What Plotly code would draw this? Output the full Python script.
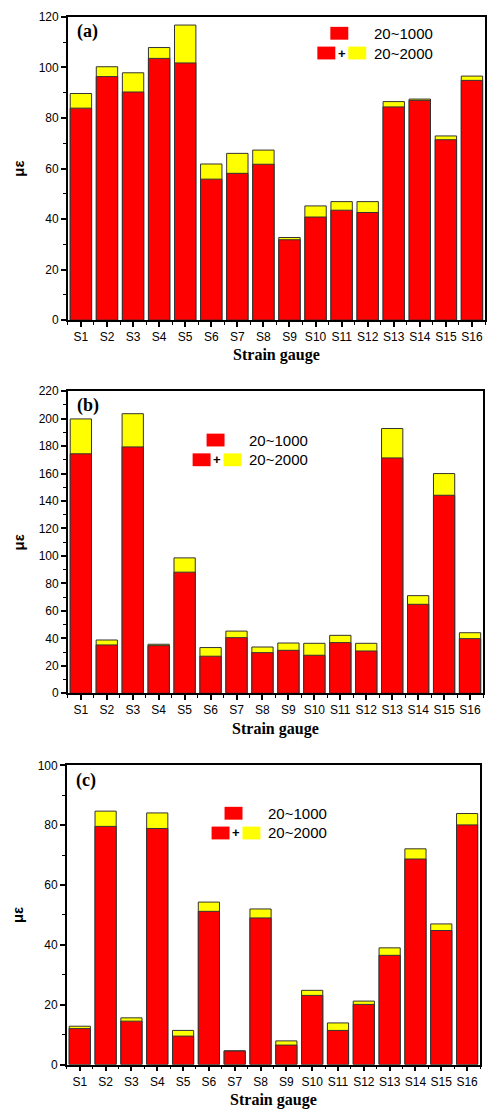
import plotly.graph_objects as go

# page is 495x1120; body has 8px default margin, so the figure is 16px smaller
PAGE_W, PAGE_H = 495, 1120
OFF = 8
W, H = PAGE_W - 2 * OFF, PAGE_H - 2 * OFF

gauges = [f"S{i}" for i in range(1, 17)]

# Panel (a)
a_1000 = [83.9, 96.4, 90.3, 103.6, 101.8, 55.8, 58.1, 61.7, 31.8, 40.8, 43.5, 42.6, 84.4, 87.0, 71.4, 94.9]
a_2000 = [89.7, 100.3, 97.9, 107.9, 116.8, 61.8, 66.0, 67.3, 32.7, 45.2, 46.9, 46.9, 86.5, 87.5, 72.9, 96.6]
# Panel (b)
b_1000 = [174.4, 35.2, 179.4, 34.7, 88.2, 27.0, 40.5, 29.6, 31.3, 27.7, 36.9, 30.8, 171.4, 64.8, 144.2, 39.8]
b_2000 = [199.8, 38.8, 203.6, 35.7, 98.6, 33.3, 45.3, 33.7, 36.6, 36.4, 42.2, 36.4, 192.8, 71.1, 160.0, 44.1]
# Panel (c)
c_1000 = [12.0, 79.6, 14.5, 78.9, 9.5, 51.2, 4.5, 49.0, 6.5, 23.1, 11.4, 20.1, 36.5, 68.7, 44.8, 80.1]
c_2000 = [12.8, 84.7, 15.6, 84.1, 11.4, 54.3, 4.6, 52.0, 7.9, 24.8, 13.9, 21.2, 39.0, 72.1, 47.0, 83.9]

panels = [
    dict(tag="(a)", lo=a_1000, hi=a_2000, ymax=120,
         box=(68, 486, 10, 317), leg=(331, 318, 20, 40)),
    dict(tag="(b)", lo=b_1000, hi=b_2000, ymax=220,
         box=(68, 484, 389, 695), leg=(207, 193, 432, 452)),
    dict(tag="(c)", lo=c_1000, hi=c_2000, ymax=100,
         box=(67, 481, 768, 1071), leg=(225, 212, 810, 830)),
]

RED = "#FF0000"
YEL = "#FFFF00"
EDGE = "#333333"

def px(x):
    return (x - OFF) / W

def py(y):
    return 1 - (y - OFF) / H

fig = go.Figure()
xpos = list(range(1, len(gauges) + 1))
shapes = []
annotations = []

for i, p in enumerate(panels, start=1):
    xa = "x" if i == 1 else f"x{i}"
    ya = "y" if i == 1 else f"y{i}"
    fig.add_trace(go.Bar(x=xpos, y=p["hi"], xaxis=xa, yaxis=ya, width=0.82,
                         marker=dict(color=YEL, line=dict(color=EDGE, width=1)),
                         showlegend=False, hoverinfo="skip"))
    fig.add_trace(go.Bar(x=xpos, y=p["lo"], xaxis=xa, yaxis=ya, width=0.82,
                         marker=dict(color=RED, line=dict(color=EDGE, width=1)),
                         showlegend=False, hoverinfo="skip"))
    x0, x1, ytop, ybot = p["box"]
    key = "xaxis" if i == 1 else f"xaxis{i}"
    keyy = "yaxis" if i == 1 else f"yaxis{i}"
    fig.layout[key] = dict(
        domain=[px(x0), px(x1)], anchor=ya, range=[0.5, 16.5],
        tickmode="array", tickvals=xpos, ticktext=gauges,
        ticks="outside", ticklen=5, tickwidth=1.5, tickcolor="black",
        showline=True, linecolor="black", linewidth=1.5, mirror=True,
        showgrid=False, zeroline=False,
        tickfont=dict(family="Liberation Sans, Arial", size=12, color="black"),
        title=dict(text="<b>Strain gauge</b>", standoff=6,
                   font=dict(family="Liberation Serif, Times New Roman", size=16, color="black")),
        minor=dict(tickmode="linear", tick0=0.5, dtick=0.5, ticks="outside", ticklen=3,
                   tickwidth=1, tickcolor="black"),
    )
    fig.layout[keyy] = dict(
        domain=[py(ybot), py(ytop)], anchor=xa, range=[0, p["ymax"]],
        dtick=20, tick0=0,
        ticks="outside", ticklen=5, tickwidth=1.5, tickcolor="black",
        showline=True, linecolor="black", linewidth=1.5, mirror=True,
        showgrid=False, zeroline=False,
        tickfont=dict(family="Liberation Sans, Arial", size=12, color="black"),
        title=dict(text="<b>με</b>", standoff=10,
                   font=dict(family="Liberation Sans, Arial", size=15, color="black")),
        minor=dict(dtick=10, ticks="outside", ticklen=3, tickwidth=1, tickcolor="black"),
    )
    # panel tag
    annotations.append(dict(text=f"<b>{p['tag']}</b>", x=px(x0 + 7), y=py(ytop + 15),
                            xref="paper", yref="paper", xanchor="left", yanchor="middle",
                            showarrow=False,
                            font=dict(family="Liberation Serif, Times New Roman", size=18, color="black")))
    # custom legend
    rx1, rx2, ry1, ry2 = p["leg"]
    bw, bh = 18, 13
    shapes.append(dict(type="rect", xref="paper", yref="paper",
                       x0=px(rx1), x1=px(rx1 + bw), y0=py(ry1 + bh), y1=py(ry1),
                       fillcolor=RED, line=dict(width=0)))
    shapes.append(dict(type="rect", xref="paper", yref="paper",
                       x0=px(rx2), x1=px(rx2 + bw), y0=py(ry2 + bh), y1=py(ry2),
                       fillcolor=RED, line=dict(width=0)))
    shapes.append(dict(type="rect", xref="paper", yref="paper",
                       x0=px(rx2 + 31), x1=px(rx2 + 31 + bw), y0=py(ry2 + bh), y1=py(ry2),
                       fillcolor=YEL, line=dict(width=0)))
    annotations.append(dict(text="<b>+</b>", x=px(rx2 + 24.5), y=py(ry2 + bh / 2),
                            xref="paper", yref="paper", xanchor="center", yanchor="middle",
                            showarrow=False,
                            font=dict(family="Liberation Sans, Arial", size=13, color="black")))
    tx = rx2 + 55
    annotations.append(dict(text="20~1000", x=px(tx), y=py(ry1 + bh / 2),
                            xref="paper", yref="paper", xanchor="left", yanchor="middle",
                            showarrow=False,
                            font=dict(family="Liberation Sans, Arial", size=15, color="black")))
    annotations.append(dict(text="20~2000", x=px(tx), y=py(ry2 + bh / 2),
                            xref="paper", yref="paper", xanchor="left", yanchor="middle",
                            showarrow=False,
                            font=dict(family="Liberation Sans, Arial", size=15, color="black")))

fig.update_layout(
    width=W, height=H, barmode="overlay",
    margin=dict(l=0, r=0, t=0, b=0),
    paper_bgcolor="white", plot_bgcolor="white",
    shapes=shapes, annotations=annotations, showlegend=False,
)

fig.write_html("out.html")
